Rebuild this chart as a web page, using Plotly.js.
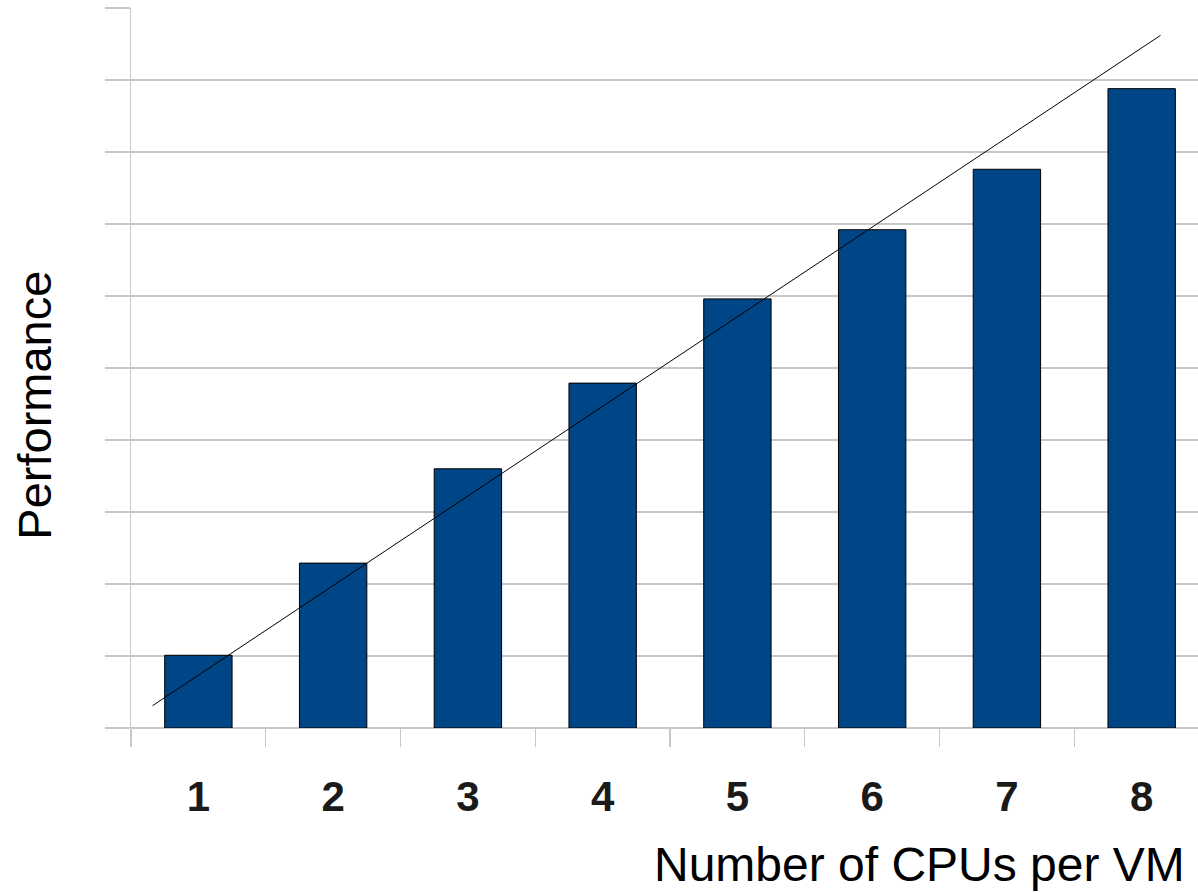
<!DOCTYPE html>
<html>
<head>
<meta charset="utf-8">
<script src="https://cdn.plot.ly/plotly-3.0.1.min.js"></script>
<style>
html,body{margin:0;padding:0;overflow:hidden;background:#fff;}
#chart{width:1198px;height:893px;}
</style>
</head>
<body>
<div id="chart"></div>
<script>
// Data
const cpus = [1, 2, 3, 4, 5, 6, 7, 8];
const cpuLabels = ['1', '2', '3', '4', '5', '6', '7', '8'];
const performance = [1.01, 2.29, 3.60, 4.79, 5.96, 6.92, 7.76, 8.88];
const trendX = [0.66, 8.14];
const trendY = [0.31, 9.62];
const categoryBounds = [0.5, 1.5, 2.5, 3.5, 4.5, 5.5, 6.5, 7.5, 8.5];

const grid = '#c8c8c8';

const traces = [
  {
    type: 'bar',
    x: cpus,
    y: performance,
    width: 0.5,
    marker: {color: '#004586', line: {color: '#000000', width: 1}},
    hoverinfo: 'x+y'
  },
  {
    type: 'scatter',
    mode: 'lines',
    x: trendX,
    y: trendY,
    line: {color: '#000000', width: 1},
    hoverinfo: 'skip'
  }
];

const layout = {
  width: 1198,
  height: 893,
  margin: {l: 131, r: 0, t: 8, b: 165},
  paper_bgcolor: '#ffffff',
  plot_bgcolor: '#ffffff',
  showlegend: false,
  font: {family: 'Liberation Sans, Arial, sans-serif', color: '#1a1a1a'},
  xaxis: {
    range: [0.5, 8.418],
    tickmode: 'array',
    tickvals: cpus,
    ticktext: cpuLabels,
    ticks: '',
    ticklabelstandoff: 40,
    tickfont: {family: 'Liberation Sans, Arial, sans-serif', size: 42, color: '#1a1a1a', weight: 'bold'},
    showgrid: false,
    zeroline: false,
    showline: false,
    minor: {
      tickmode: 'array',
      tickvals: categoryBounds,
      ticks: 'outside',
      ticklen: 18,
      tickwidth: 1.3,
      tickcolor: grid,
      showgrid: false
    },
    fixedrange: true
  },
  yaxis: {
    range: [0, 10],
    tickmode: 'linear',
    tick0: 0,
    dtick: 1,
    showticklabels: false,
    ticks: 'outside',
    ticklen: 25,
    tickwidth: 1.3,
    tickcolor: grid,
    showgrid: true,
    gridcolor: grid,
    gridwidth: 1.3,
    zeroline: true,
    zerolinecolor: grid,
    zerolinewidth: 1.3,
    showline: true,
    linecolor: grid,
    linewidth: 1.3,
    fixedrange: true
  },
  annotations: [
    {
      text: 'Number of CPUs per VM',
      xref: 'paper', yref: 'paper',
      x: 1, y: -0.19,
      xanchor: 'right', yanchor: 'middle',
      xshift: -11,
      showarrow: false,
      font: {family: 'Liberation Sans, Arial, sans-serif', size: 48, color: '#000000'}
    },
    {
      text: 'Performance',
      xref: 'paper', yref: 'paper',
      x: -0.09, y: 0.449,
      xanchor: 'center', yanchor: 'middle',
      textangle: -90,
      showarrow: false,
      font: {family: 'Liberation Sans, Arial, sans-serif', size: 47, color: '#000000'}
    }
  ]
};

Plotly.newPlot('chart', traces, layout, {displayModeBar: false, staticPlot: true});
</script>
</body>
</html>
